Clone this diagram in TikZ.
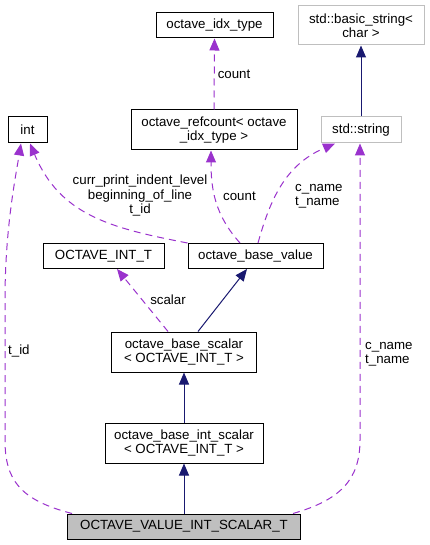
\documentclass[tikz,border=0pt]{standalone}
\usepackage{fontspec}
\setmainfont{Liberation Sans}
\usetikzlibrary{arrows.meta}
\definecolor{edgep}{HTML}{9A32CD}
\definecolor{edgen}{HTML}{191970}
\definecolor{gborder}{HTML}{BFBFBF}
\definecolor{gfill}{HTML}{BFBFBF}
\begin{document}
\begin{tikzpicture}[x=1pt,y=-1pt,
  box/.style={draw=black, line width=1pt, fill=white, inner sep=0pt, align=center,
    font=\fontsize{13.3}{14.5}\selectfont},
  gbox/.style={box, draw=gborder},
  dep/.style={draw=edgep, dash pattern=on 7pt off 5pt, line width=1pt,
    -{Triangle[length=12pt,width=10pt]}},
  inh/.style={draw=edgen, line width=1pt, -{Triangle[length=12pt,width=10pt]}},
  lbl/.style={font=\fontsize{13.3}{14.5}\selectfont, align=center, inner sep=0pt},
  lbll/.style={lbl, align=left}]
\useasboundingbox (0,0) rectangle (430,545);
\fill[white] (0,0) rectangle (430,545);

\node[box, minimum width=117pt, minimum height=25pt] (idx) at (214.5,25.5) {octave\_idx\_type};
\node[gbox, minimum width=126pt, minimum height=39pt] (bstr) at (361,25.5) {std::basic\_string\textless\\char \textgreater};
\node[box, minimum width=39pt, minimum height=26pt] (int) at (27.5,130) {int};
\node[box, minimum width=166pt, minimum height=40pt] (ref) at (214,130) {octave\_refcount\textless{} octave\\\_idx\_type \textgreater};
\node[gbox, minimum width=80pt, minimum height=26pt] (str) at (361,130) {std::string};
\node[box, minimum width=121pt, minimum height=25pt] (oit) at (103.5,256) {OCTAVE\_INT\_T};
\node[box, minimum width=135pt, minimum height=25pt] (obv) at (255.5,256) {octave\_base\_value};
\node[box, minimum width=145pt, minimum height=40pt] (obs) at (184,352) {octave\_base\_scalar\\\textless{} OCTAVE\_INT\_T \textgreater};
\node[box, minimum width=158pt, minimum height=40pt] (obis) at (184,443) {octave\_base\_int\_scalar\\\textless{} OCTAVE\_INT\_T \textgreater};
\node[box, fill=gfill, minimum width=233pt, minimum height=25pt] (ov) at (184,526.5) {OCTAVE\_VALUE\_INT\_SCALAR\_T};

% inheritance
\draw[inh] (str.north) -- (bstr.south);
\draw[inh] ([xshift=14]obs.north) -- ([xshift=-8.5]obv.south);
\draw[inh] (obis.north) -- (obs.south);
\draw[inh] (ov.north) -- (obis.south);

% usage
\draw[dep] (ref.north) -- (idx.south) node[lbll, anchor=west, pos=0.5, xshift=3pt] (l1) {count};
\draw[dep] (obv.north west) .. controls (110,228) and (60,215) .. ([xshift=2.5]int.south);
\node[lbl] (l2) at (140,196) {curr\_print\_indent\_level\\beginning\_of\_line\\t\_id};
\draw[dep] ([xshift=-15.5]obv.north) .. controls (215,215) and (211,190) .. ([xshift=-3]ref.south);
\node[lbll, anchor=west] (l3) at (223,196) {count};
\draw[dep] ([xshift=2.5]obv.north) .. controls (270,200) and (285,165) .. ([xshift=-26]str.south);
\node[lbll, anchor=west] (l4) at (295,196) {c\_name\\t\_name};
\draw[dep] ([xshift=-16]obs.north) -- ([xshift=13.5]oit.south);
\node[lbl] (l5) at (168,300) {scalar};
\draw[dep] ([xshift=-112]ov.north) .. controls (20,500) and (5,480) .. (5,440) -- (5,300)
  .. controls (5,230) and (15,180) .. ([xshift=-6.5]int.south);
\node[lbll, anchor=west] (l6) at (8,351) {t\_id};
\draw[dep] ([xshift=109]ov.north) .. controls (340,500) and (360,480) .. (360,440) -- ([xshift=-1]str.south);
\node[lbll, anchor=west] (l7) at (365,354) {c\_name\\t\_name};
\end{tikzpicture}
\end{document}
